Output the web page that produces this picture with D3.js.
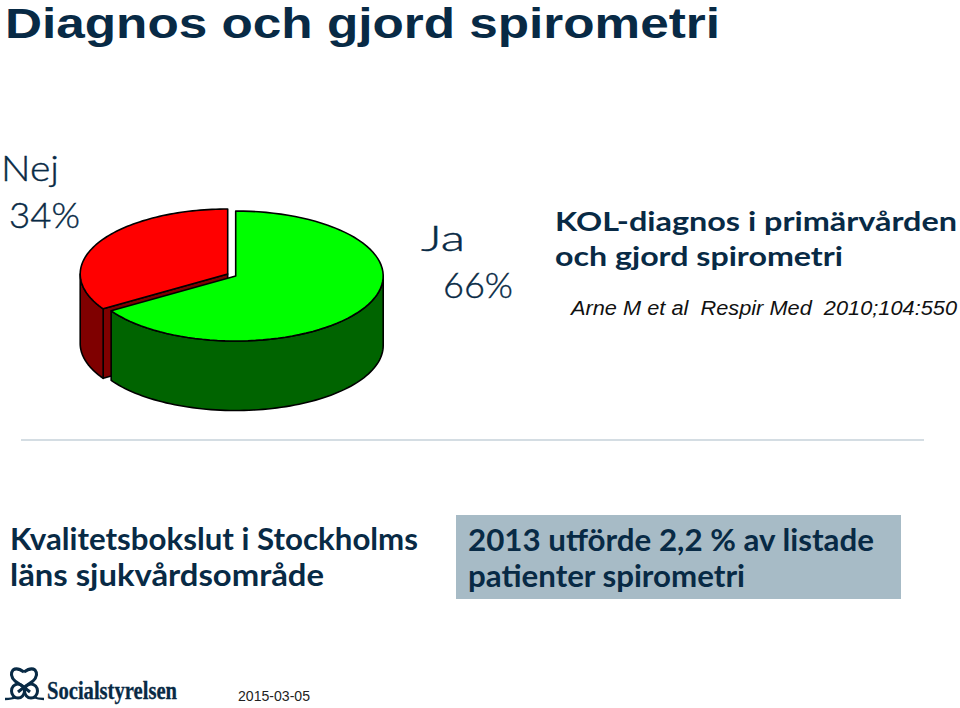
<!DOCTYPE html>
<html><head><meta charset="utf-8">
<script src="https://cdn.jsdelivr.net/npm/d3@7/dist/d3.min.js"></script>
<style>html,body{margin:0;padding:0;background:#fff}svg{display:block}</style>
</head><body><svg id="c" width="960" height="708"></svg>
<script>
const categories = ["Ja", "Nej"];
const values = [66, 34];
const sliceColors = ["#00ff00", "#ff0000"];
const sideColors = ["#006400", "#7f0000"];
const faceColor = "#7f0000";
const ink = "#082a45";

const svg = d3.select("#c");
const pie = d3.pie().sort(null).value(d => d)(values);

const rx = 147.5, ry = 65, depth = 69.5;
const centers = [{x:235.7,y:276},{x:227.7,y:274}];
const sx = d3.scaleLinear().domain([-1,1]);
const sy = d3.scaleLinear().domain([-1,1]);
function pt(i,a,z){
  const c = centers[i];
  sx.range([c.x-rx,c.x+rx]); sy.range([c.y-ry,c.y+ry]);
  return [sx(Math.sin(a)), sy(-Math.cos(a))+(z||0)];
}
function arcPts(i,a0,a1,z){
  const n = 80;
  return d3.range(n+1).map(k=>pt(i,a0+(a1-a0)*k/n,z));
}
const line = d3.line();
const g = svg.append("g").attr("stroke","#000").attr("stroke-width",1.6).attr("stroke-linejoin","round");
function drawSlice(i){
  const p = pie[i];
  const c = centers[i];
  const a0 = p.startAngle, a1 = p.endAngle;
  const w0 = Math.max(a0, Math.PI/2), w1 = Math.min(a1, 3*Math.PI/2);
  if (i===1){
    g.append("path").attr("fill",faceColor)
      .attr("d",line([[c.x,c.y],pt(i,a0),pt(i,a0,depth),[c.x,c.y+depth]])+"Z");
  }
  g.append("path").attr("fill",sideColors[i])
    .attr("d",line(arcPts(i,w0,w1).concat(arcPts(i,w1,w0,depth)))+"Z");
  g.append("path").attr("fill",sliceColors[i])
    .attr("d",line([[c.x,c.y]].concat(arcPts(i,a0,a1)))+"Z");
}
drawSlice(1); drawSlice(0);

function txt(x,y,s,size,opt){
  opt=opt||{};
  const t = svg.append("text").attr("x",x).attr("y",y).text(s)
    .attr("font-size",size).attr("fill",opt.fill||ink)
    .attr("font-family",opt.family||"'Liberation Sans',Arial,sans-serif")
    .attr("font-weight",opt.weight||"normal");
  if(opt.style) t.attr("font-style",opt.style);
  if(opt.w) t.attr("textLength",opt.w).attr("lengthAdjust","spacingAndGlyphs");
  if(opt.stroke) t.attr("stroke",opt.fill||ink).attr("stroke-width",opt.stroke);
  return t;
}
const geo = "Lato,'Open Sans',sans-serif";
txt(5,38,"Diagnos och gjord spirometri",42,{weight:"bold",w:715});
txt(1,181,"Nej",36,{family:geo,weight:300,w:58,stroke:0.4});
txt(9,228,"34%",36,{family:geo,weight:300,w:71,stroke:0.4});
txt(421,251,"Ja",36,{family:geo,weight:300,w:44,stroke:0.4});
txt(443,298,"66%",36,{family:geo,weight:300,w:70,stroke:0.4});
txt(555,231,"KOL-diagnos i primärvården",27,{family:geo,weight:"bold",w:402});
txt(555,266,"och gjord spirometri",27,{family:geo,weight:"bold",w:288});
txt(571,315,"Arne M et al  Respir Med  2010;104:550",20,{style:"italic",w:386,fill:"#111"}).attr("xml:space","preserve").style("white-space","pre");

svg.append("line").attr("x1",21).attr("x2",924).attr("y1",440).attr("y2",440).attr("stroke","#a9bcc8").attr("stroke-width",1.2);

svg.append("rect").attr("x",456).attr("y",515).attr("width",445).attr("height",84).attr("fill","#a7bbc6");
txt(10,550,"Kvalitetsbokslut i Stockholms",30,{family:geo,weight:"bold",w:408});
txt(10,586,"läns sjukvårdsområde",30,{family:geo,weight:"bold",w:314});
txt(468,551,"2013 utförde 2,2 % av listade",30,{family:geo,weight:"bold",w:406});
txt(468,587,"patienter spirometri",30,{family:geo,weight:"bold",w:277});

// logo
const logo = svg.append("g").attr("fill","none").attr("stroke",ink).attr("stroke-width",3);
logo.append("path").attr("d","M24 672 Q17 667 13 670 Q9 675 15 681 Q24 687 30 692 M24 672 Q31 667 35 670 Q39 675 33 681 Q24 687 18 692");
logo.append("ellipse").attr("cx",18).attr("cy",691).attr("rx",6.5).attr("ry",7);
logo.append("ellipse").attr("cx",31).attr("cy",691).attr("rx",6.5).attr("ry",7);
logo.append("path").attr("d","M5 699 Q12 699 16 697 M33 697 Q38 699 44 699").attr("stroke-width",2.4);
txt(47,699,"Socialstyrelsen",26,{family:"'Liberation Serif',serif",weight:"bold",w:130,stroke:0.3});
txt(238,701,"2015-03-05",15,{w:72,fill:"#222"});
</script></body></html>
